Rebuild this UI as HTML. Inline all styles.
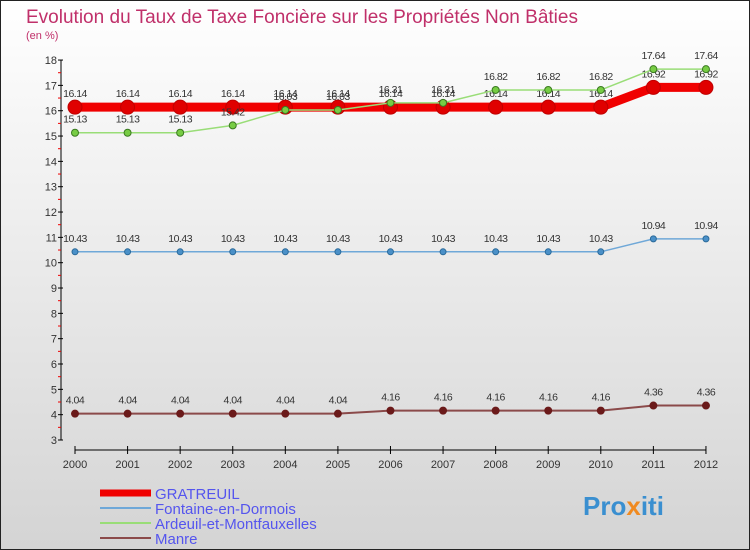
<!DOCTYPE html>
<html><head><meta charset="utf-8"><style>
body{margin:0}
svg{display:block;font-family:"Liberation Sans",sans-serif}
</style></head><body>
<svg width="750" height="550">
<defs><linearGradient id="bg" x1="0" y1="0" x2="0" y2="1"><stop offset="0" stop-color="#ffffff"/><stop offset="1" stop-color="#d4d4d4"/></linearGradient></defs>
<rect x="0.5" y="0.5" width="749" height="549" fill="url(#bg)" stroke="#222"/>
<text x="26" y="23" font-size="19" fill="#c0306a" textLength="552" lengthAdjust="spacingAndGlyphs">Evolution du Taux de Taxe Foncière sur les Propriétés Non Bâties</text>
<text x="26" y="39" font-size="11" fill="#c0306a">(en %)</text>
<g id="axes"></g>
<g id="series"></g>
<g id="legend"></g>
<text x="583" y="515" font-size="26" font-weight="bold" fill="#3a8fd0">Pro<tspan fill="#f08a20">x</tspan>iti</text>
</svg>
<script>
const years=[2000,2001,2002,2003,2004,2005,2006,2007,2008,2009,2010,2011,2012];
const gratreuil=[16.14,16.14,16.14,16.14,16.14,16.14,16.14,16.14,16.14,16.14,16.14,16.92,16.92];
const fontaine=[10.43,10.43,10.43,10.43,10.43,10.43,10.43,10.43,10.43,10.43,10.43,10.94,10.94];
const ardeuil=[15.13,15.13,15.13,15.42,16.03,16.03,16.31,16.31,16.82,16.82,16.82,17.64,17.64];
const manre=[4.04,4.04,4.04,4.04,4.04,4.04,4.16,4.16,4.16,4.16,4.16,4.36,4.36];
const yTicks=[3,4,5,6,7,8,9,10,11,12,13,14,15,16,17,18];
const NS="http://www.w3.org/2000/svg";
const X=i=>75+i*52.58;
const Y=v=>440-(v-3)*25.33;
function mk(t,a,p){const e=document.createElementNS(NS,t);for(const k in a)e.setAttribute(k,a[k]);p.appendChild(e);return e;}
const ax=document.getElementById('axes');
const yl=mk('line',{x1:61,y1:Y(18),x2:61,y2:Y(3),stroke:'#000'},ax);


yTicks.forEach(v=>{
 mk('line',{x1:58,x2:63,y1:Y(v),y2:Y(v),stroke:'#000'},ax);
 if(v<18)mk('line',{x1:58,x2:61,y1:Y(v+0.5),y2:Y(v+0.5),stroke:'#e00'},ax);
 const t=mk('text',{x:57,y:Y(v)+4,'font-size':11,'text-anchor':'end',fill:'#333'},ax);t.textContent=v;
 
 
});
const xl=mk('line',{x1:X(0),y1:450,x2:X(12),y2:450,stroke:'#000'},ax);


years.forEach((yr,i)=>{
 mk('line',{x1:X(i),x2:X(i),y1:446,y2:454,stroke:'#000'},ax);
 const t=mk('text',{x:X(i),y:468,'font-size':11,'text-anchor':'middle',fill:'#333'},ax);t.textContent=yr;
 
 
});
const sg=document.getElementById('series');
function series(vals,name,color,lw,r,dot,dotStroke,labelDy){
 const g=mk('g',{},sg);
 
 
 const l=mk('polyline',{points:vals.map((v,i)=>X(i)+','+Y(v)).join(' '),fill:'none',stroke:color,'stroke-width':lw,'stroke-linejoin':'round'},g);
 
 
 vals.forEach((v,i)=>{
  const c=mk('circle',{cx:X(i),cy:Y(v),r:r,fill:dot,stroke:dotStroke,'stroke-width':1},g);
  
  
  const t=mk('text',{x:X(i),y:Y(v)+labelDy,'font-size':10.5,'text-anchor':'middle',fill:'#333','letter-spacing':'-0.5'},g);
  t.textContent=String(v);
  
  
 });
}
series(manre,'manre','#8b4a4a',2,3.5,'#6b1a1a','#6b1a1a',-10);
series(fontaine,'fontaine','#6fa8d8',1.5,3,'#4a90c8','#2a6a9a',-10);
series(gratreuil,'gratreuil','#f00000',9,7,'#e00000','#c00000',-10);
series(ardeuil,'ardeuil','#99dd77',1.5,3.5,'#77cc44','#3a7a20',-10);
const lg=document.getElementById('legend');
[['GRATREUIL','#f00000',7],['Fontaine-en-Dormois','#6fa8d8',2],['Ardeuil-et-Montfauxelles','#99dd77',2],['Manre','#8b4a4a',2]].forEach((d,i)=>{
 const y=493+i*15;
 const g=mk('g',{},lg);
 
 
 mk('line',{x1:100,x2:151,y1:y,y2:y,stroke:d[1],'stroke-width':d[2]},g);
 const t=mk('text',{x:155,y:y+6,'font-size':15,fill:'#5555ee'},g);t.textContent=d[0];
});
</script>
</body></html>
